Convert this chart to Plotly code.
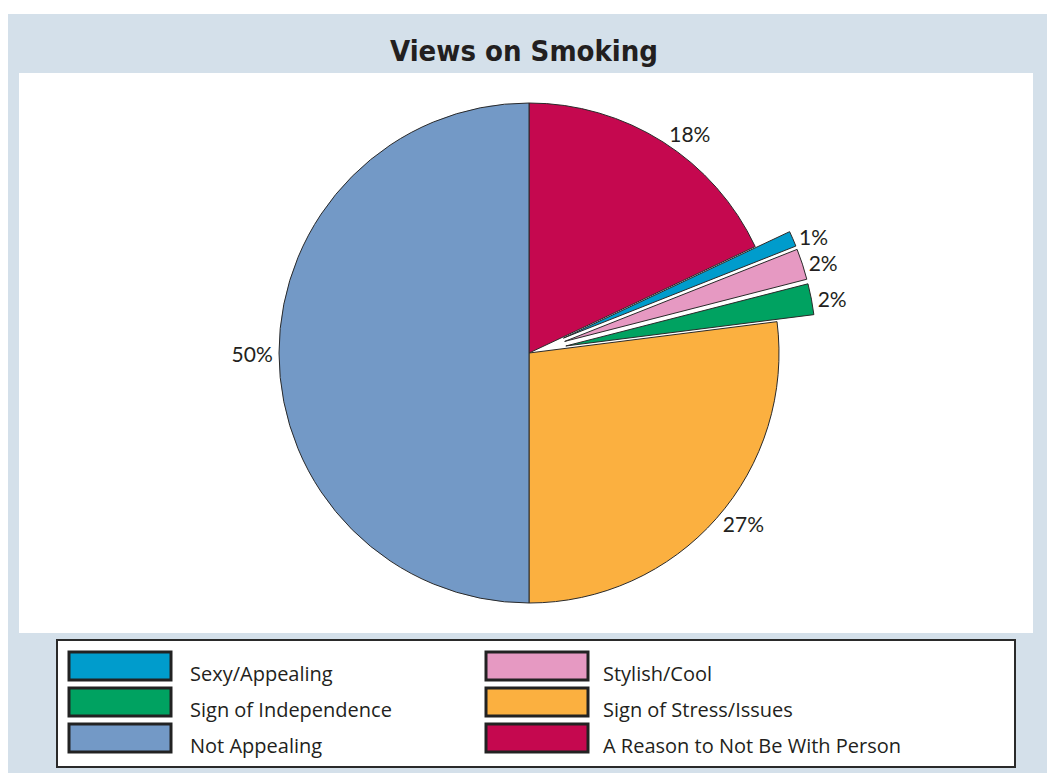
import plotly.graph_objects as go

W, H = 1047, 773

# ---- data ----
categories = ["A Reason to Not Be With Person", "Sexy/Appealing", "Stylish/Cool",
              "Sign of Independence", "Sign of Stress/Issues", "Not Appealing"]
values = [18, 1, 2, 2, 27, 50]
pulls = [0, 0.15, 0.15, 0.15, 0, 0]
colors = ["#c5084f", "#009ccc", "#e699c2", "#00a261", "#fbb040", "#7399c6"]

legend_left = ["Sexy/Appealing", "Sign of Independence", "Not Appealing"]
legend_right = ["Stylish/Cool", "Sign of Stress/Issues", "A Reason to Not Be With Person"]
color_of = dict(zip(categories, colors))

title_text = "Views on Smoking"


def px(x):
    return x / W


def py(y):
    return 1 - y / H


# pie geometry: centre (529,353), radius ~250, max pull 0.15
cx, cy, r = 529, 353, 250
half = r * (1 + max(pulls))

fig = go.Figure()
fig.add_trace(go.Pie(
    labels=categories,
    values=values,
    pull=pulls,
    sort=False,
    direction="clockwise",
    rotation=0,
    marker=dict(colors=colors, line=dict(color="#2a2a2a", width=1)),
    textinfo="percent",
    texttemplate="%{value}%",
    textposition="outside",
    outsidetextfont=dict(family="Lato, Open Sans, sans-serif", size=21, color="#231f20"),
    showlegend=False,
    hoverinfo="label+value",
    domain=dict(x=[px(cx - half), px(cx + half)], y=[py(cy + half), py(cy - half)]),
))

shapes = [
    # outer light-blue panel
    dict(type="rect", xref="paper", yref="paper", x0=px(8), x1=1, y0=0, y1=py(14),
         fillcolor="#d4e0ea", line=dict(width=0), layer="below"),
    # white plotting area
    dict(type="rect", xref="paper", yref="paper", x0=px(19), x1=px(1033), y0=py(633), y1=py(73),
         fillcolor="white", line=dict(width=0), layer="below"),
    # legend box
    dict(type="rect", xref="paper", yref="paper", x0=px(57), x1=px(1015), y0=py(767), y1=py(640),
         fillcolor="white", line=dict(color="#2a2a2a", width=2), layer="below"),
]

annotations = [
    dict(text=f"<b>{title_text}</b>", xref="paper", yref="paper", x=0.5, y=py(51),
         showarrow=False, xanchor="center", yanchor="middle",
         font=dict(family="DejaVu Sans Condensed, Liberation Sans Narrow, Roboto, sans-serif",
                   size=29, color="#231f20")),
]

row_y = [666, 702, 738]
for col_labels, sx, tx in [(legend_left, 69, 188), (legend_right, 486, 601)]:
    for lab, yc in zip(col_labels, row_y):
        shapes.append(dict(type="rect", xref="paper", yref="paper",
                           x0=px(sx), x1=px(sx + 102), y0=py(yc + 14), y1=py(yc - 14),
                           fillcolor=color_of[lab], line=dict(color="#222222", width=3)))
        annotations.append(dict(text=lab, xref="paper", yref="paper", x=px(tx), y=py(yc + 7),
                                showarrow=False, xanchor="left", yanchor="middle",
                                font=dict(family="Open Sans, sans-serif", size=20, color="#231f20")))

fig.update_layout(
    width=W, height=H,
    margin=dict(l=0, r=0, t=0, b=0),
    paper_bgcolor="white",
    shapes=shapes,
    annotations=annotations,
)

fig.write_html("out.html")
